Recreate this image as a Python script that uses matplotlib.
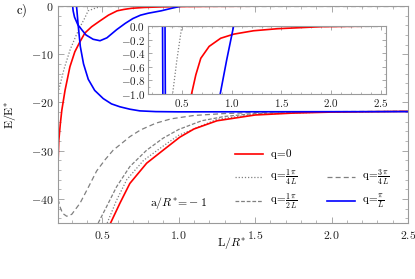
import matplotlib
matplotlib.use("Agg")
import matplotlib.pyplot as plt
from matplotlib.lines import Line2D
from matplotlib.ticker import MultipleLocator, FuncFormatter

plt.rcParams['mathtext.fontset'] = 'cm'
plt.rcParams['font.family'] = ['DejaVu Serif']

# ---- data ----
# q = 0 : left (upper) branch and lower branch
red_up_x = [0.21, 0.215, 0.225, 0.235, 0.256, 0.288, 0.32, 0.354, 0.386, 0.43, 0.484, 0.54, 0.597, 0.64, 0.69, 0.774, 0.89, 1.02, 1.22, 1.46, 1.9, 2.5]
red_up_y = [-33.0, -28.0, -24.5, -21.6, -17.5, -12.6, -9.5, -7.4, -5.6, -4.3, -3.1, -1.9, -1.0, -0.72, -0.475, -0.30, -0.18, -0.12, -0.07, -0.04, -0.01, 0.0]
red_lo_x = [0.554, 0.615, 0.68, 0.79, 0.898, 1.007, 1.1, 1.25, 1.5, 1.75, 2.0, 2.5]
red_lo_y = [-45.0, -40.9, -36.8, -32.6, -29.9, -27.2, -25.5, -23.8, -22.6, -22.2, -22.0, -21.85]

# q = pi/(4L) : dotted
q1_up_x = [0.21, 0.25, 0.29, 0.33, 0.36, 0.385, 0.407, 0.45, 0.5]
q1_up_y = [-18.0, -13.0, -9.0, -6.0, -4.0, -2.5, -1.0, -0.5, 0.0]
q1_lo_x = [0.532, 0.59, 0.66, 0.77, 0.9, 1.0, 1.25, 1.5, 2.0, 2.5]
q1_lo_y = [-45.0, -40.5, -36.0, -32.0, -29.0, -26.8, -23.5, -22.45, -21.95, -21.85]

# q = pi/(2L) : dashed
q2_x = [0.473, 0.528, 0.593, 0.68, 0.79, 0.898, 1.0, 1.15, 1.3, 1.5, 2.0, 2.5]
q2_y = [-45.0, -41.6, -37.5, -33.3, -29.9, -27.4, -25.6, -23.8, -22.9, -22.3, -21.95, -21.85]

# q = 3pi/(4L) : long dashed
q3_x = [0.21, 0.225, 0.24, 0.267, 0.3, 0.354, 0.41, 0.463, 0.52, 0.571, 0.63, 0.68, 0.75, 0.85, 0.95, 1.1, 1.3, 1.6, 2.0, 2.5]
q3_y = [-40.0, -41.8, -43.0, -43.6, -43.2, -40.9, -37.5, -34.2, -31.8, -29.9, -28.4, -27.1, -25.7, -24.3, -23.4, -22.7, -22.3, -22.0, -21.9, -21.85]
q3_zero_x = [0.21, 2.5]
q3_zero_y = [0.0, 0.0]

# q = pi/L : blue, two branches
qa_x = [0.306, 0.309, 0.318, 0.34, 0.37, 0.393, 0.44, 0.485, 0.53, 0.594, 0.65, 0.70, 0.75, 0.8, 0.885, 0.95, 1.02]
qa_y = [0.0, -1.0, -2.3, -3.9, -5.1, -6.0, -6.9, -7.2, -6.6, -4.9, -3.6, -2.6, -1.9, -1.5, -1.0, -0.5, 0.0]
qb_x = [0.331, 0.334, 0.342, 0.356, 0.377, 0.408, 0.45, 0.506, 0.56, 0.615, 0.68, 0.746, 0.85, 1.0, 2.5]
qb_y = [0.0, -1.0, -4.0, -8.4, -12.0, -15.2, -17.5, -19.2, -20.3, -20.9, -21.4, -21.75, -21.9, -21.95, -21.9]

main_xticks = [0.5, 1.0, 1.5, 2.0, 2.5]
main_yticks = [0, -10, -20, -30, -40]
inset_xticks = [0.5, 1.0, 1.5, 2.0, 2.5]
inset_yticks = [0.0, -0.2, -0.4, -0.6, -0.8, -1.0]

RED = '#ff0000'
BLUE = '#0000ff'
GRAY = '#808080'
FRAME = '#9a9a9a'
DOT = (0, (1, 1.5))
DASH2 = (0, (3, 1.5))
DASH3 = (0, (4, 2.5))

W, H = 415, 279
fig = plt.figure(figsize=(W / 100, H / 100), dpi=100)
ax = fig.add_axes([58 / W, 1 - 223 / H, 350 / W, 217 / H])


def style(a, fs):
    for s in a.spines.values():
        s.set_color(FRAME)
        s.set_linewidth(0.8)
    a.tick_params(which='both', direction='in', top=True, right=True,
                  color=FRAME, labelsize=fs, labelcolor='#222222')
    a.tick_params(which='major', length=4, width=0.6)
    a.tick_params(which='minor', length=2.2, width=0.5)


def draw(a, lw):
    a.plot(q3_zero_x, q3_zero_y, color=GRAY, lw=lw * 0.75, ls=DASH3)
    a.plot(q3_x, q3_y, color=GRAY, lw=lw * 0.75, ls=DASH3)
    a.plot(q2_x, q2_y, color=GRAY, lw=lw * 0.75, ls=DASH2)
    a.plot(q1_up_x, q1_up_y, color=GRAY, lw=lw * 0.75, ls=DOT)
    a.plot(q1_lo_x, q1_lo_y, color=GRAY, lw=lw * 0.75, ls=DOT)
    a.plot(red_up_x, red_up_y, color=RED, lw=lw)
    a.plot(red_lo_x, red_lo_y, color=RED, lw=lw)
    a.plot(qa_x, qa_y, color=BLUE, lw=lw)
    a.plot(qb_x, qb_y, color=BLUE, lw=lw)


draw(ax, 1.2)
ax.set_xlim(0.21, 2.5)
ax.set_ylim(-45, 0)
style(ax, 8.5)
ax.set_xticks(main_xticks)
ax.set_yticks(main_yticks)
ax.xaxis.set_minor_locator(MultipleLocator(0.1))
ax.yaxis.set_minor_locator(MultipleLocator(2))
ax.xaxis.set_major_formatter(FuncFormatter(lambda v, p: r'$%.1f$' % v))
ax.yaxis.set_major_formatter(FuncFormatter(lambda v, p: r'$%d$' % v))
ax.tick_params(axis='x', pad=4)
ax.tick_params(axis='y', pad=3)

fig.text(232 / W, 1 - 243 / H, r'$\mathrm{L}/R^{*}$', ha='center', va='center', fontsize=8.5)
fig.text(10 / W, 1 - 115 / H, r'$\mathrm{E}/\mathrm{E}^{*}$', ha='center', va='center',
         rotation=90, fontsize=8.5)
fig.text(22 / W, 1 - 11 / H, r'$\mathrm{c)}$', ha='center', va='center', fontsize=9)
fig.text(150 / W, 1 - 203 / H, r'$\mathrm{a}/R^{*}\!=\!-1$', ha='left', va='center', fontsize=8.5)

# legend (manual)
leg = [
    (235, 263, 154, RED, '-', r'$\mathrm{q}\!=\!0$'),
    (235, 263, 177, GRAY, DOT, r'$\mathrm{q}\!=\!\frac{1}{4}\frac{\pi}{L}$'),
    (235, 263, 201, GRAY, DASH2, r'$\mathrm{q}\!=\!\frac{1}{2}\frac{\pi}{L}$'),
    (327, 355, 177, GRAY, DASH3, r'$\mathrm{q}\!=\!\frac{3}{4}\frac{\pi}{L}$'),
    (327, 355, 201, BLUE, '-', r'$\mathrm{q}\!=\!\frac{\pi}{L}$'),
]
for x0, x1, yy, c, ls, lab in leg:
    lw = 1.2 if c in (RED, BLUE) else 0.9
    fig.add_artist(Line2D([x0 / W, x1 / W], [1 - yy / H, 1 - yy / H],
                          transform=fig.transFigure, color=c, ls=ls, lw=lw))
    fig.text((x1 + 7) / W, 1 - yy / H, lab, ha='left', va='center', fontsize=8)

# inset
axi = fig.add_axes([148 / W, 1 - 94 / H, 238 / W, 68 / H])
axi.set_facecolor('white')
draw(axi, 1.2)
axi.set_xlim(0.16, 2.55)
axi.set_ylim(-1.0, 0.0)
style(axi, 8)
axi.set_xticks(inset_xticks)
axi.set_yticks(inset_yticks)
axi.xaxis.set_minor_locator(MultipleLocator(0.1))
axi.yaxis.set_minor_locator(MultipleLocator(0.1))
axi.xaxis.set_major_formatter(FuncFormatter(lambda v, p: r'$%.1f$' % v))
axi.yaxis.set_major_formatter(FuncFormatter(lambda v, p: r'$%.1f$' % v))
axi.tick_params(axis='both', pad=2)
axi.tick_params(which='major', length=3)
axi.tick_params(which='minor', length=1.6)

fig.savefig('out.png', dpi=100)
